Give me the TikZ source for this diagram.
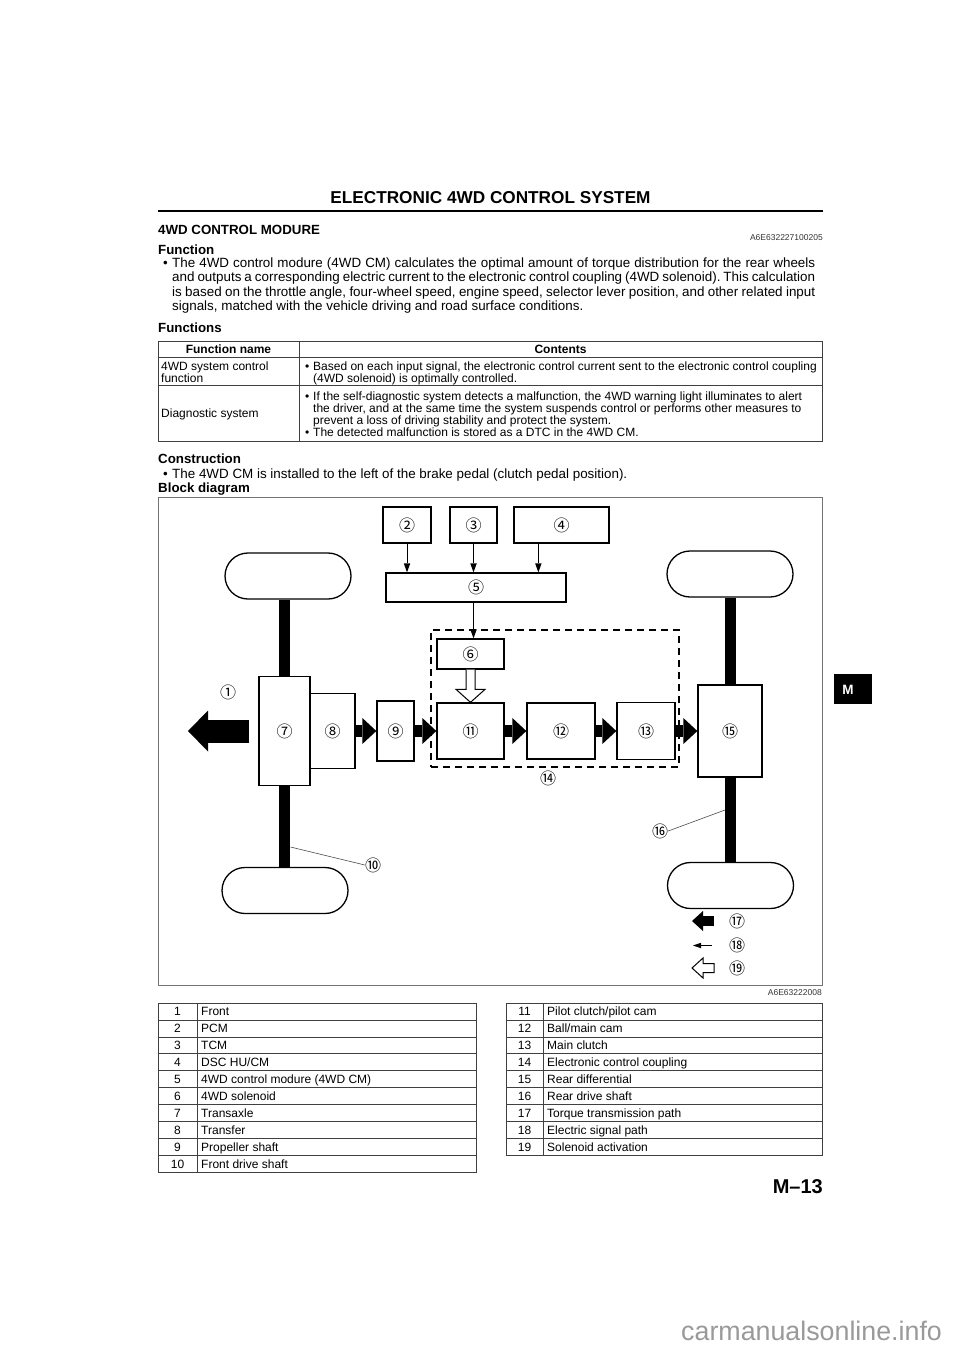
\documentclass[tikz,border=0pt]{standalone}
\usepackage{fontspec}
\setmainfont{Liberation Sans}
\newfontfamily\circfont{Noto Sans CJK JP}
\usetikzlibrary{calc,arrows.meta}
\frenchspacing

\newcommand\fsz[2]{\fontsize{#1}{#2}\selectfont}
\newcommand\vpara[2]{\vtop{\hsize=#1\parindent=0pt\tolerance=9999\hyphenpenalty=10000\exhyphenpenalty=10000\relax #2\par}}

\tikzset{
  txt/.style={inner sep=0pt, anchor=base west},
  head/.style={txt, font=\fsz{13.3}{15}\bfseries},
  body/.style={txt, font=\fsz{13.4}{14.6}},
  cell/.style={txt, font=\fsz{12}{11.9}},
  cnum/.style={inner sep=0pt, anchor=base, font=\fsz{12}{12}},
  code/.style={inner sep=0pt, anchor=base east, font=\fsz{8.5}{9}, text=black!80},
  grid/.style={draw=black!75, line width=0.8pt},
  frame/.style={draw=black!55, line width=1pt},
  blk/.style={draw, line width=1.3pt, fill=white, inner sep=0pt, font=\circfont\fsz{16}{16}},
  tyre/.style={draw, line width=1.3pt, fill=white, rounded corners=23pt, minimum width=126pt, minimum height=46pt, inner sep=0pt},
  num/.style={inner sep=0pt, font=\circfont\fsz{16}{16}},
  sig/.style={line width=1pt, -{Triangle[length=9pt,width=6.5pt,line width=0pt]}},
  torque/.style={line width=12pt, -{Triangle[length=14pt,width=26pt,line width=0pt]}},
  bigarrow/.style={line width=23pt, -{Triangle[length=20pt,width=41pt,line width=0pt]}},
  lead/.style={line width=0.6pt, black!70},
}

\begin{document}
\begin{tikzpicture}[x=1pt,y=-1pt]
\useasboundingbox (0,0) rectangle (960,1359);

\node[inner sep=0pt, anchor=base] (title) at (490.5,204) {\fsz{17.2}{20}\bfseries ELECTRONIC 4WD CONTROL SYSTEM};
\draw[line width=2.2pt] (158,211) -- (823,211);

\node[head] (h1) at (158,234.7) {4WD CONTROL MODURE};
\node[code] (c1) at (823,240.5) {A6E632227100205};
\node[head] (h2) at (158,254.7) {Function};
\node[body] (bu1) at (163,267) {•};
\node[body] (t1) at (172,267) {\vpara{643pt}{The 4WD control modure (4WD CM) calculates the optimal amount of torque distribution for the rear wheels\linebreak
and outputs a corresponding electric current to the electronic control coupling (4WD solenoid). This calculation\linebreak
is based on the throttle angle, four-wheel speed, engine speed, selector lever position, and other related input\linebreak
signals, matched with the vehicle driving and road surface conditions.}};

\node[head] (h3) at (158,332.7) {Functions};
\draw[grid] (158,341) rectangle (822,441);
\draw[grid] (158,357) -- (822,357) (158,385) -- (822,385) (299,341) -- (299,441);
\node[cnum, font=\fsz{12}{12}\bfseries] (th1) at (228.5,353.3) {Function name};
\node[cnum, font=\fsz{12}{12}\bfseries] (th2) at (560.5,353.3) {Contents};
\node[cell] (r1a) at (161,370.3) {\vpara{135pt}{4WD system control\\function}};
\node[cell] (bu2) at (305,370.5) {•};
\node[cell] (r1b) at (313,370.5) {\vpara{505pt}{Based on each input signal, the electronic control current sent to the electronic control coupling\\
(4WD solenoid) is optimally controlled.}};
\node[cell] (r2a) at (161,417.3) {Diagnostic system};
\node[cell] (bu3) at (305,400.8) {•};
\node[cell] (r2b) at (313,400.8) {\vpara{505pt}{If the self-diagnostic system detects a malfunction, the 4WD warning light illuminates to alert\\
the driver, and at the same time the system suspends control or performs other measures to\\
prevent a loss of driving stability and protect the system.}};
\node[cell] (bu4) at (305,436.5) {•};
\node[cell] (r2c) at (313,436.5) {The detected malfunction is stored as a DTC in the 4WD CM.};

\node[head] (h4) at (158,463.7) {Construction};
\node[body] (bu5) at (163,478.5) {•};
\node[body] (t2) at (172,478.5) {The 4WD CM is installed to the left of the brake pedal (clutch pedal position).};
\node[head] (h5) at (158,492.5) {Block diagram};

\draw[frame] (158,497) rectangle (822,985);
\node[code] (c2) at (822,995) {A6E63222008};

\node[draw, dash pattern=on 7pt off 5pt, line width=1.3pt, minimum width=248pt, minimum height=137pt, inner sep=0pt] (ecc) at (555,698.5) {};

\node[tyre] (fw1) at (288,576) {};
\node[tyre] (fw2) at (285,890.5) {};
\node[tyre] (rw1) at (730,574) {};
\node[tyre] (rw2) at (730.5,885.5) {};

\node[blk, minimum width=48pt, minimum height=36pt] (pcm) at (407,525) {②};
\node[blk, minimum width=47pt, minimum height=36pt] (tcm) at (473.5,525) {③};
\node[blk, minimum width=95pt, minimum height=36pt] (dsc) at (561.5,525) {④};
\node[blk, minimum width=180pt, minimum height=29pt] (cm) at (476,587.5) {⑤};
\node[blk, minimum width=67pt, minimum height=30pt] (sol) at (470.5,654) {⑥};
\node[blk, minimum width=51pt, minimum height=109pt] (transaxle) at (284.5,731) {⑦};
\node[blk, minimum width=45pt, minimum height=75pt] (transfer) at (332.5,731) {⑧};
\node[blk, minimum width=37pt, minimum height=60pt] (prop) at (395.5,731) {⑨};
\node[blk, minimum width=67pt, minimum height=56pt] (pilot) at (470.5,731) {⑪};
\node[blk, minimum width=68pt, minimum height=56pt] (ballcam) at (561,731) {⑫};
\node[blk, minimum width=58pt, minimum height=57pt] (mainclutch) at (646,731) {⑬};
\node[blk, minimum width=64pt, minimum height=92pt] (diff) at (730,731) {⑮};

\fill ($(transaxle.north)+(-5.5,0)$) rectangle ($(transaxle.north |- fw1.south)+(5.5,0)$);
\fill ($(transaxle.south)+(-5.5,0)$) rectangle ($(transaxle.south |- fw2.north)+(5.5,0)$);
\fill ($(diff.north)+(-5.5,0)$) rectangle ($(diff.north |- rw1.south)+(5.5,0)$);
\fill ($(diff.south)+(-5.5,0)$) rectangle ($(diff.south |- rw2.north)+(5.5,0)$);

\coordinate (dscout) at ($(dsc.south west)+(25,0)$);
\draw[sig] (pcm.south) -- (pcm.south |- cm.north);
\draw[sig] (tcm.south) -- (tcm.south |- cm.north);
\draw[sig] (dscout) -- (dscout |- cm.north);
\draw[sig] (cm.south -| tcm.south) -- (sol.north -| tcm.south);

\draw[line width=1pt, fill=white] ($(sol.south)+(-4.5,0)$) -- ($(pilot.north)+(-4.5,-13)$) -- ($(pilot.north)+(-14.5,-13)$) -- (pilot.north)
  -- ($(pilot.north)+(14.5,-13)$) -- ($(pilot.north)+(4.5,-13)$) -- ($(sol.south)+(4.5,0)$);

\draw[torque] (transfer.east) -- (prop.west);
\draw[torque] (prop.east) -- (pilot.west);
\draw[torque] (pilot.east) -- (ballcam.west);
\draw[torque] (ballcam.east) -- (mainclutch.west);
\draw[torque] (mainclutch.east) -- (diff.west);

\coordinate (fronttip) at (188,731);
\draw[bigarrow] ($(transaxle.west)+(-9,0)$) -- (fronttip);
\node[num] (n1) at (228,692) {①};

\node[num] (n10) at (373,865) {⑩};
\coordinate (fds) at (290.5,847);
\draw[lead] (fds) -- (n10.west);
\node[num] (n14) at (548,778) {⑭};
\node[num] (n16) at (660,831) {⑯};
\coordinate (rds) at (725,810);
\draw[lead] (rds) -- (n16.east);

\coordinate (k17a) at (714,921);
\coordinate (k17b) at (692,921);
\draw[line width=10pt, -{Triangle[length=11pt,width=20pt,line width=0pt]}] (k17a) -- (k17b);
\node[num] (n17) at (737,921) {⑰};
\coordinate (k18a) at (712,945.5);
\coordinate (k18b) at (693,945.5);
\draw[line width=1.4pt, -{Triangle[length=8pt,width=5.5pt,line width=0pt]}] (k18a) -- (k18b);
\node[num] (n18) at (737,945) {⑱};
\draw[line width=1pt] (714,963.5) -- (703,963.5) -- (703,958) -- (692,968) -- (703,978) -- (703,972.5) -- (714,972.5) -- cycle;
\node[num] (n19) at (737,968) {⑲};

\draw[grid] (158,1003) rectangle (476,1172.6);
\draw[grid] (197,1003) -- (197,1172.6);
\draw[grid] (158,1019.96) -- (476,1019.96) (158,1036.92) -- (476,1036.92) (158,1053.88) -- (476,1053.88)
  (158,1070.84) -- (476,1070.84) (158,1087.8) -- (476,1087.8) (158,1104.76) -- (476,1104.76)
  (158,1121.72) -- (476,1121.72) (158,1138.68) -- (476,1138.68) (158,1155.64) -- (476,1155.64);
\draw[grid] (506,1003) rectangle (822,1155.64);
\draw[grid] (543,1003) -- (543,1155.64);
\draw[grid] (506,1019.96) -- (822,1019.96) (506,1036.92) -- (822,1036.92) (506,1053.88) -- (822,1053.88)
  (506,1070.84) -- (822,1070.84) (506,1087.8) -- (822,1087.8) (506,1104.76) -- (822,1104.76)
  (506,1121.72) -- (822,1121.72) (506,1138.68) -- (822,1138.68);

\node[cnum] (i1) at (177.5,1015.8) {1};
\node[cell] (e1) at (201,1015.8) {Front};
\node[cnum] (i2) at (177.5,1032.7) {2};
\node[cell] (e2) at (201,1032.7) {PCM};
\node[cnum] (i3) at (177.5,1049.7) {3};
\node[cell] (e3) at (201,1049.7) {TCM};
\node[cnum] (i4) at (177.5,1066.7) {4};
\node[cell] (e4) at (201,1066.7) {DSC HU/CM};
\node[cnum] (i5) at (177.5,1083.6) {5};
\node[cell] (e5) at (201,1083.6) {4WD control modure (4WD CM)};
\node[cnum] (i6) at (177.5,1100.6) {6};
\node[cell] (e6) at (201,1100.6) {4WD solenoid};
\node[cnum] (i7) at (177.5,1117.6) {7};
\node[cell] (e7) at (201,1117.6) {Transaxle};
\node[cnum] (i8) at (177.5,1134.5) {8};
\node[cell] (e8) at (201,1134.5) {Transfer};
\node[cnum] (i9) at (177.5,1151.5) {9};
\node[cell] (e9) at (201,1151.5) {Propeller shaft};
\node[cnum] (i10) at (177.5,1168.4) {10};
\node[cell] (e10) at (201,1168.4) {Front drive shaft};

\node[cnum] (i11) at (524.5,1015.8) {11};
\node[cell] (e11) at (547,1015.8) {Pilot clutch/pilot cam};
\node[cnum] (i12) at (524.5,1032.7) {12};
\node[cell] (e12) at (547,1032.7) {Ball/main cam};
\node[cnum] (i13) at (524.5,1049.7) {13};
\node[cell] (e13) at (547,1049.7) {Main clutch};
\node[cnum] (i14) at (524.5,1066.7) {14};
\node[cell] (e14) at (547,1066.7) {Electronic control coupling};
\node[cnum] (i15) at (524.5,1083.6) {15};
\node[cell] (e15) at (547,1083.6) {Rear differential};
\node[cnum] (i16) at (524.5,1100.6) {16};
\node[cell] (e16) at (547,1100.6) {Rear drive shaft};
\node[cnum] (i17) at (524.5,1117.6) {17};
\node[cell] (e17) at (547,1117.6) {Torque transmission path};
\node[cnum] (i18) at (524.5,1134.5) {18};
\node[cell] (e18) at (547,1134.5) {Electric signal path};
\node[cnum] (i19) at (524.5,1151.5) {19};
\node[cell] (e19) at (547,1151.5) {Solenoid activation};

\node[fill=black, minimum width=38pt, minimum height=30pt, inner sep=0pt] (tab) at (853,689) {};
\node[inner sep=0pt, text=white, font=\fsz{13.5}{14}\bfseries] (tabm) at (848,690) {M};
\node[inner sep=0pt, anchor=base east] (pg) at (823,1193) {\fsz{20}{20}\bfseries M–13};
\node[txt, text=black!40, font=\fsz{26.8}{27}] (wm) at (681,1340) {carmanualsonline.info};
\end{tikzpicture}
\end{document}
